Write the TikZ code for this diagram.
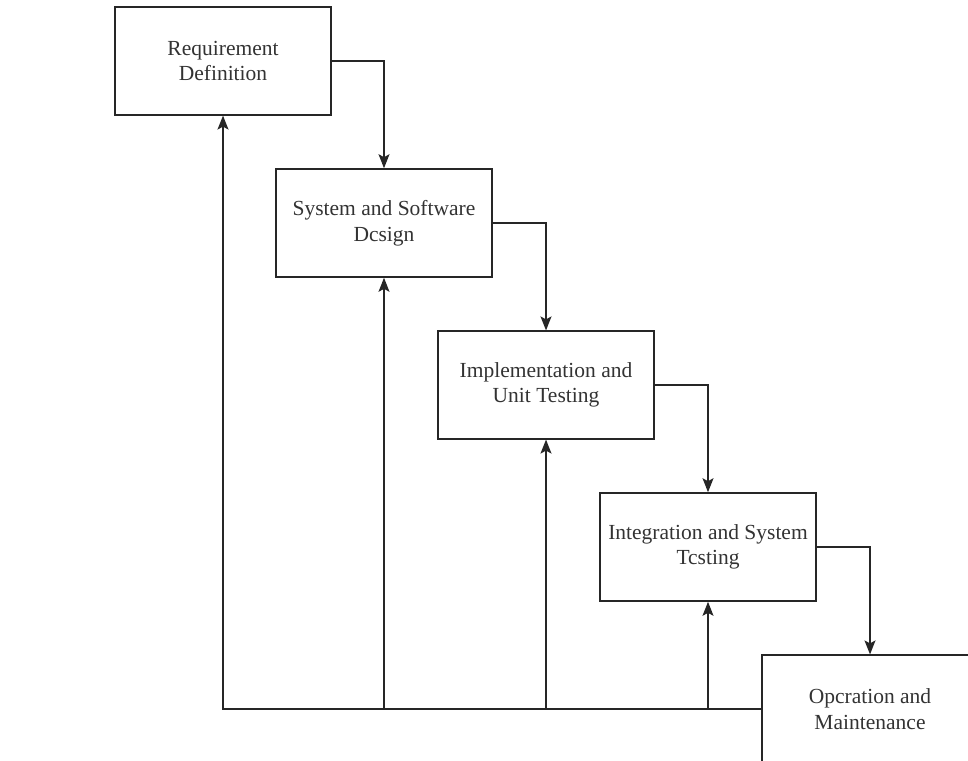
\documentclass[tikz,border=0pt]{standalone}
\usepackage{fontspec}
\setmainfont{Liberation Serif}
\usetikzlibrary{arrows.meta}
\begin{document}
\begin{tikzpicture}[x=1pt,y=-1pt,
  phase/.style={draw=black!85, line width=1.2pt, fill=white,
    minimum width=216pt, minimum height=108pt, inner sep=0pt,
    align=center, text=black!80,
    font=\fontsize{21.5}{25.5}\selectfont},
  bold phase/.style={phase, line width=1.6pt},
  flow/.style={draw=black!85, line width=1.3pt,
    arrows={-Stealth[length=14pt,width=11pt,inset=3pt]}}]
  \useasboundingbox (0,0) rectangle (968,760);
  \clip (0,0) rectangle (968,760);

  % waterfall phases
  \node[phase]      (b1) at (223,61)  {Requirement\\Definition};
  \node[bold phase] (b2) at (384,223) {System and Software\\Dcsign};
  \node[phase]      (b3) at (546,385) {Implementation and\\Unit Testing};
  \node[bold phase] (b4) at (708,547) {Integration and System\\Tcsting};
  \node[phase]      (b5) at (870,709) {Opcration and\\Maintenance};

  % forward flow between phases
  \draw[flow] (b1.east) -| (b2.north);
  \draw[flow] (b2.east) -| (b3.north);
  \draw[flow] (b3.east) -| (b4.north);
  \draw[flow] (b4.east) -| (b5.north);

  % feedback paths from maintenance
  \coordinate (j2) at (b2.south |- b5.west);
  \coordinate (j3) at (b3.south |- b5.west);
  \coordinate (j4) at (b4.south |- b5.west);
  \draw[flow] (b5.west) -| (b1.south);
  \draw[flow] (j2) -- (b2.south);
  \draw[flow] (j3) -- (b3.south);
  \draw[flow] (j4) -- (b4.south);
\end{tikzpicture}
\end{document}
